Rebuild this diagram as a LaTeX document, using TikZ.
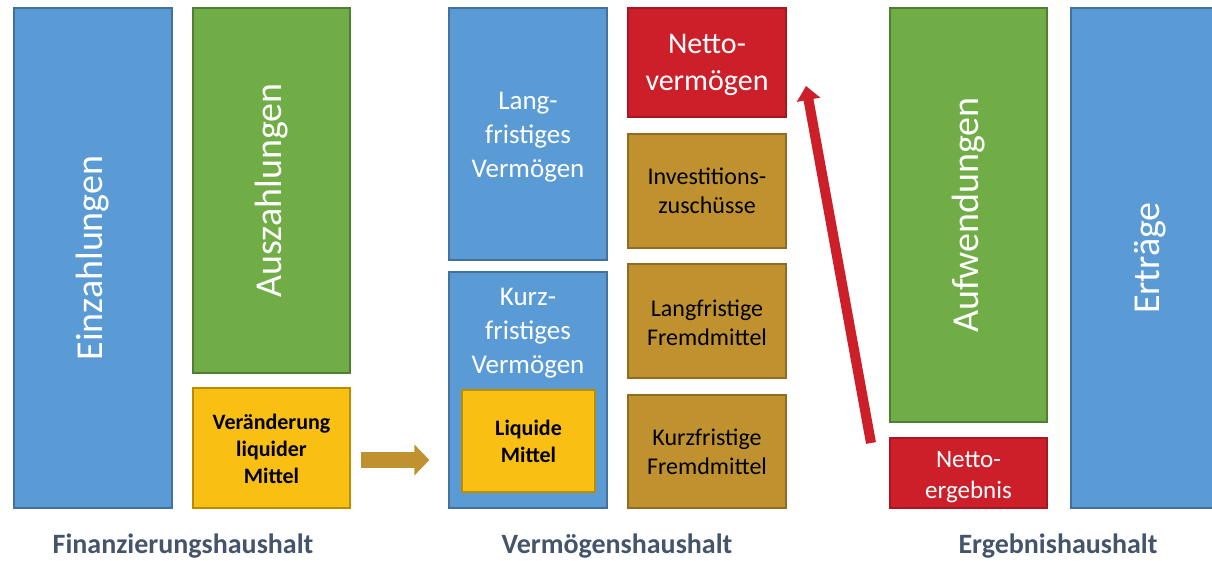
\documentclass[tikz,border=0pt]{standalone}
\usepackage{fontspec}
\setmainfont{Carlito}
\usetikzlibrary{arrows.meta}
\definecolor{bfill}{HTML}{5B9BD5}\definecolor{bline}{HTML}{41719C}
\definecolor{gfill}{HTML}{70AD47}\definecolor{gline}{HTML}{507E32}
\definecolor{yfill}{HTML}{F9C013}\definecolor{yline}{HTML}{BC8C00}
\definecolor{ofill}{HTML}{C0922F}\definecolor{oline}{HTML}{8F6C22}
\definecolor{rfill}{HTML}{CC1F2A}\definecolor{rline}{HTML}{A8161F}
\definecolor{lbl}{HTML}{44546A}
\tikzset{
 box/.style={draw, line width=1.2pt, inner sep=0pt, align=center},
 bluebox/.style={box, fill=bfill, draw=bline, text=white},
 greenbox/.style={box, fill=gfill, draw=gline, text=white},
 yellowbox/.style={box, fill=yfill, draw=yline, text=black, font=\bfseries\fontsize{22}{27}\selectfont},
 brownbox/.style={box, fill=ofill, draw=oline, text=black, font=\fontsize{24}{29}\selectfont},
 redbox/.style={box, fill=rfill, draw=rline, text=white},
 bigtext/.style={font=\fontsize{38}{46}\selectfont, rotate=90},
 midtext/.style={font=\fontsize{27}{34}\selectfont},
 foot/.style={text=lbl, font=\bfseries\fontsize{28}{34}\selectfont},
}
\begin{document}
\begin{tikzpicture}[x=1pt,y=-1pt]
\useasboundingbox (0,0) rectangle (1212,561);
% Finanzierungshaushalt
\node[bluebox, minimum width=158pt, minimum height=500pt] (ein) at (93,258) {};
\node[bigtext, text=white] (eintext) at (ein.center) {Einzahlungen};
\node[greenbox, minimum width=157pt, minimum height=365pt] (aus) at (271.5,190.5) {};
\node[bigtext, text=white] (austext) at (aus.center) {Auszahlungen};
\node[yellowbox, minimum width=157pt, minimum height=120pt] (ver) at (271.5,448) {};
\node[font=\bfseries\fontsize{22}{27}\selectfont, align=center] (vertext) at (271.5,449) {Veränderung\\liquider\\Mittel};
% Vermögenshaushalt
\node[bluebox, minimum width=158pt, minimum height=252pt] (lang) at (528,134) {};
\node[midtext, text=white, align=center] (langtext) at (528,137) {Lang-\\fristiges\\Vermögen};
\node[bluebox, minimum width=158pt, minimum height=236pt] (kurz) at (528,390) {};
\node[midtext, text=white, align=center] (kurztext) at (528,333) {Kurz-\\fristiges\\Vermögen};
\node[yellowbox, minimum width=133pt, minimum height=102pt] (liq) at (528.5,441) {Liquide\\Mittel};
\node[redbox, minimum width=158pt, minimum height=109pt] (nv) at (707,62.5) {};
\node[font=\fontsize{30}{37}\selectfont, text=white, align=center] (nvtext) at (707,65) {Netto-\\vermögen};
\node[brownbox, minimum width=158pt, minimum height=114pt] (inv) at (707,191) {Investitions-\\zuschüsse};
\node[brownbox, minimum width=158pt, minimum height=114pt] (lfm) at (707,321) {};
\node[font=\fontsize{24}{29}\selectfont, align=center] (lfmtext) at (707,323) {Langfristige\\Fremdmittel};
\node[brownbox, minimum width=158pt, minimum height=113pt] (kfm) at (707,451.5) {Kurzfristige\\Fremdmittel};
% Ergebnishaushalt
\node[greenbox, minimum width=157pt, minimum height=414pt] (auf) at (968.5,215) {};
\node[bigtext, text=white] (auftext) at (auf.center) {Aufwendungen};
\node[redbox, minimum width=157pt, minimum height=70pt] (ne) at (968.5,473) {};
\node[font=\fontsize{25}{31}\selectfont, text=white, align=center] (netext) at (968.5,477) {Netto-\\ergebnis};
\node[bluebox, minimum width=158pt, minimum height=500pt] (ert) at (1150,258) {};
\node[bigtext, text=white] (erttext) at (ert.center) {Erträge};
% arrows
\draw[ofill, line width=16pt, -{Triangle[width=30pt,length=15pt]}, shorten <=10pt, shorten >=19pt] (ver.east |- 0,460) -- (kurz.west |- 0,460);
\coordinate (rs) at (871,443);
\coordinate (re) at (806,86);
\draw[rfill, line width=10pt, -{Triangle[width=23pt,length=14pt]}] (rs) -- (re);
% labels
\node[foot] (f1) at (183,546) {Finanzierungshaushalt};
\node[foot] (f2) at (617,546) {Vermögenshaushalt};
\node[foot] (f3) at (1058,546) {Ergebnishaushalt};
\end{tikzpicture}
\end{document}
